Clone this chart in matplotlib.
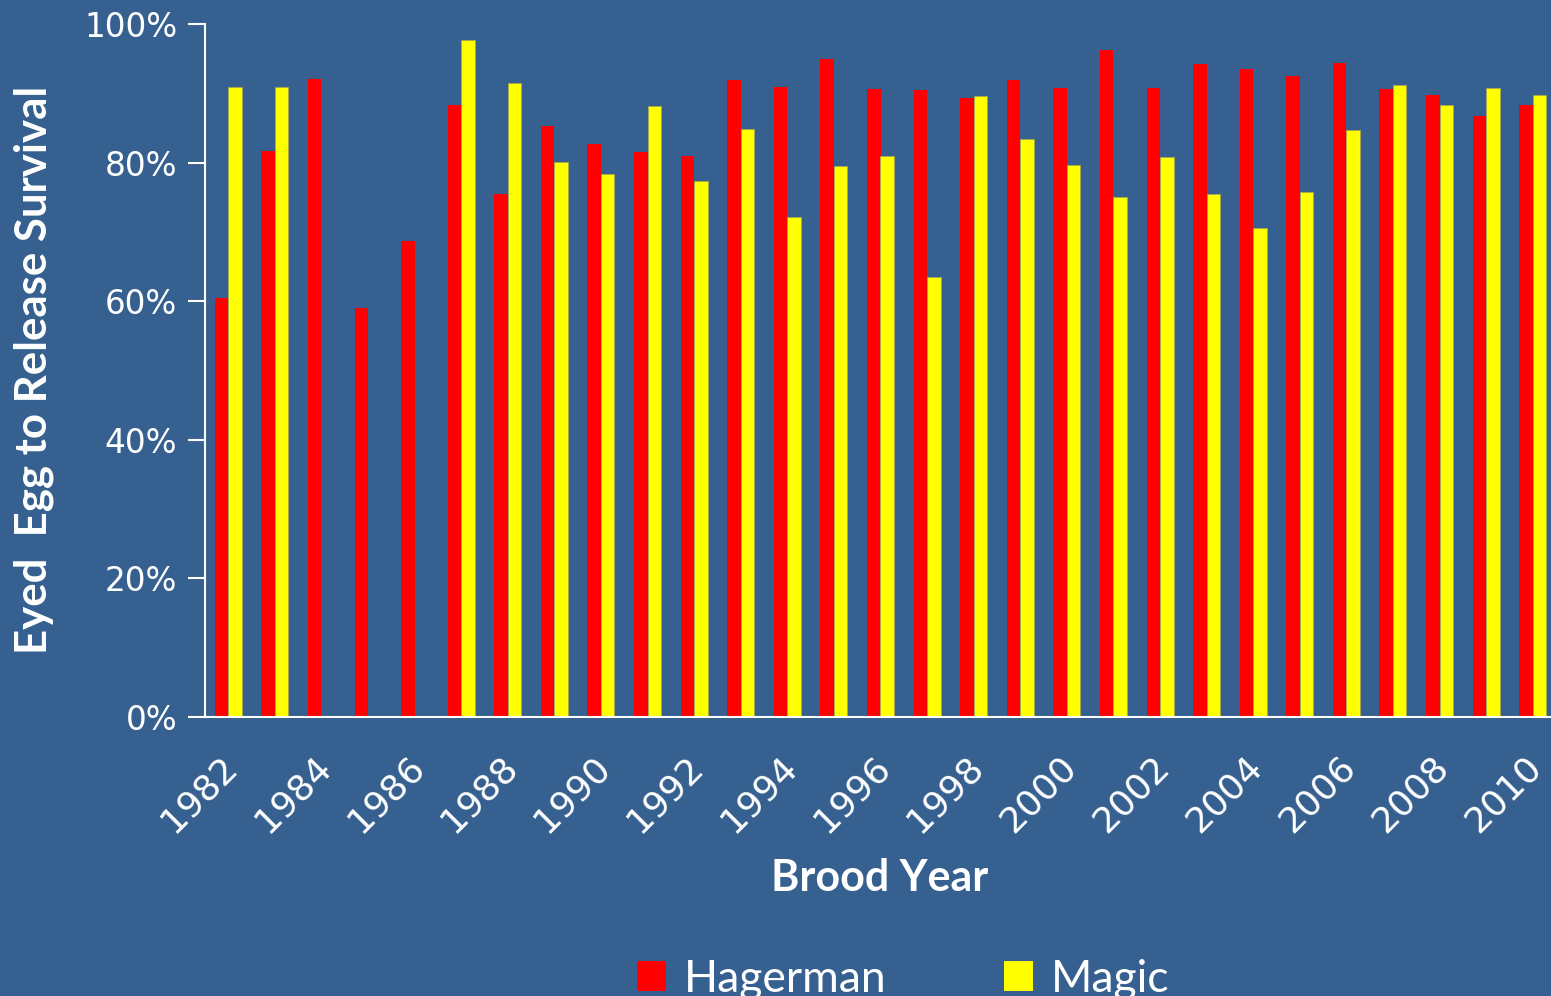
import numpy as np
import matplotlib.pyplot as plt
import matplotlib.transforms as mtransforms
from matplotlib.patches import Patch
from matplotlib.ticker import FuncFormatter

# brood years and eyed egg to release survival (%)
years = list(range(1982, 2011))
hagerman = [60.5, 81.7, 92.1, 59.0, 68.6, 88.3, 75.5, 85.3, 82.7, 81.5,
            80.9, 91.9, 90.9, 94.9, 90.6, 90.4, 89.3, 91.9, 90.8, 96.2,
            90.7, 94.2, 93.5, 92.5, 94.3, 90.6, 89.8, 86.7, 88.3]
magic = [90.9, 90.9, np.nan, np.nan, np.nan, 97.7, 91.5, 80.1, 78.3, 88.2,
         77.3, 84.8, 72.2, 79.5, 80.9, 63.4, 89.6, 83.4, 79.7, 75.0,
         80.8, 75.4, 70.6, 75.7, 84.7, 91.2, 88.3, 90.7, 89.7]

BG = '#36608F'
RED = '#FF0000'
YELLOW = '#FFFF00'
FONT = ['Lato', 'DejaVu Sans']

fig = plt.figure(figsize=(15.51, 9.96), dpi=100, facecolor=BG)
ax = fig.add_axes([205 / 1551, 1 - 716.5 / 996, 1351 / 1551, 692.5 / 996])
ax.set_facecolor(BG)

x = np.arange(len(years))
w = 0.29
ax.bar(x - w / 2, hagerman, width=w, color=RED, label='Hagerman')
ax.bar(x + w / 2, magic, width=w, color=YELLOW, edgecolor='#A8A84A',
       linewidth=0.6, label='Magic')

ax.set_xlim(-0.5, len(years) - 0.5)
ax.set_ylim(0, 100)
ax.set_yticks(np.arange(0, 101, 20))
ax.yaxis.set_major_formatter(FuncFormatter(lambda v, p: f'{v:.0f}%'))
ax.tick_params(axis='y', colors='white', labelcolor='white', length=12,
               width=1.5, direction='out', labelsize=23.5, pad=8)
ax.set_xticks(x[::2])
ax.set_xticklabels([str(y) for y in years[::2]], rotation=45, ha='right',
                   va='top', rotation_mode='anchor', fontsize=26,
                   color='white', family=['DejaVu Sans'])
ax.tick_params(axis='x', length=0, pad=24)
# nudge the slanted year labels a little to the left
shift = mtransforms.ScaledTranslation(-6 / 72, 0, fig.dpi_scale_trans)
for lab in ax.get_xticklabels():
    lab.set_transform(lab.get_transform() + shift)
for lab in ax.get_yticklabels():
    lab.set_family(['DejaVu Sans'])

for side in ['top', 'right']:
    ax.spines[side].set_visible(False)
for side in ['left', 'bottom']:
    ax.spines[side].set_color('white')
    ax.spines[side].set_linewidth(1.5)

fig.text(880 / 1551, 1 - 878 / 996, 'Brood Year', ha='center', va='center',
         fontsize=31, fontweight='bold', color='white', family=FONT)
fig.text(34 / 1551, 1 - 370 / 996, 'Eyed  Egg to Release Survival',
         rotation=90, ha='center', va='center', fontsize=31.5,
         fontweight='bold', color='white', family=FONT)

handles = [Patch(facecolor=RED, edgecolor='none'),
           Patch(facecolor=YELLOW, edgecolor='none')]
fig.legend(handles, ['Hagerman', 'Magic'], loc='center',
           bbox_to_anchor=(903 / 1551, 1 - 979 / 996), ncol=2, frameon=False,
           labelcolor='white', handlelength=0.65, handleheight=0.65,
           handletextpad=0.4, columnspacing=2.65, prop={'family': FONT, 'size': 32})

fig.savefig('out.png', dpi=100, facecolor=BG)
